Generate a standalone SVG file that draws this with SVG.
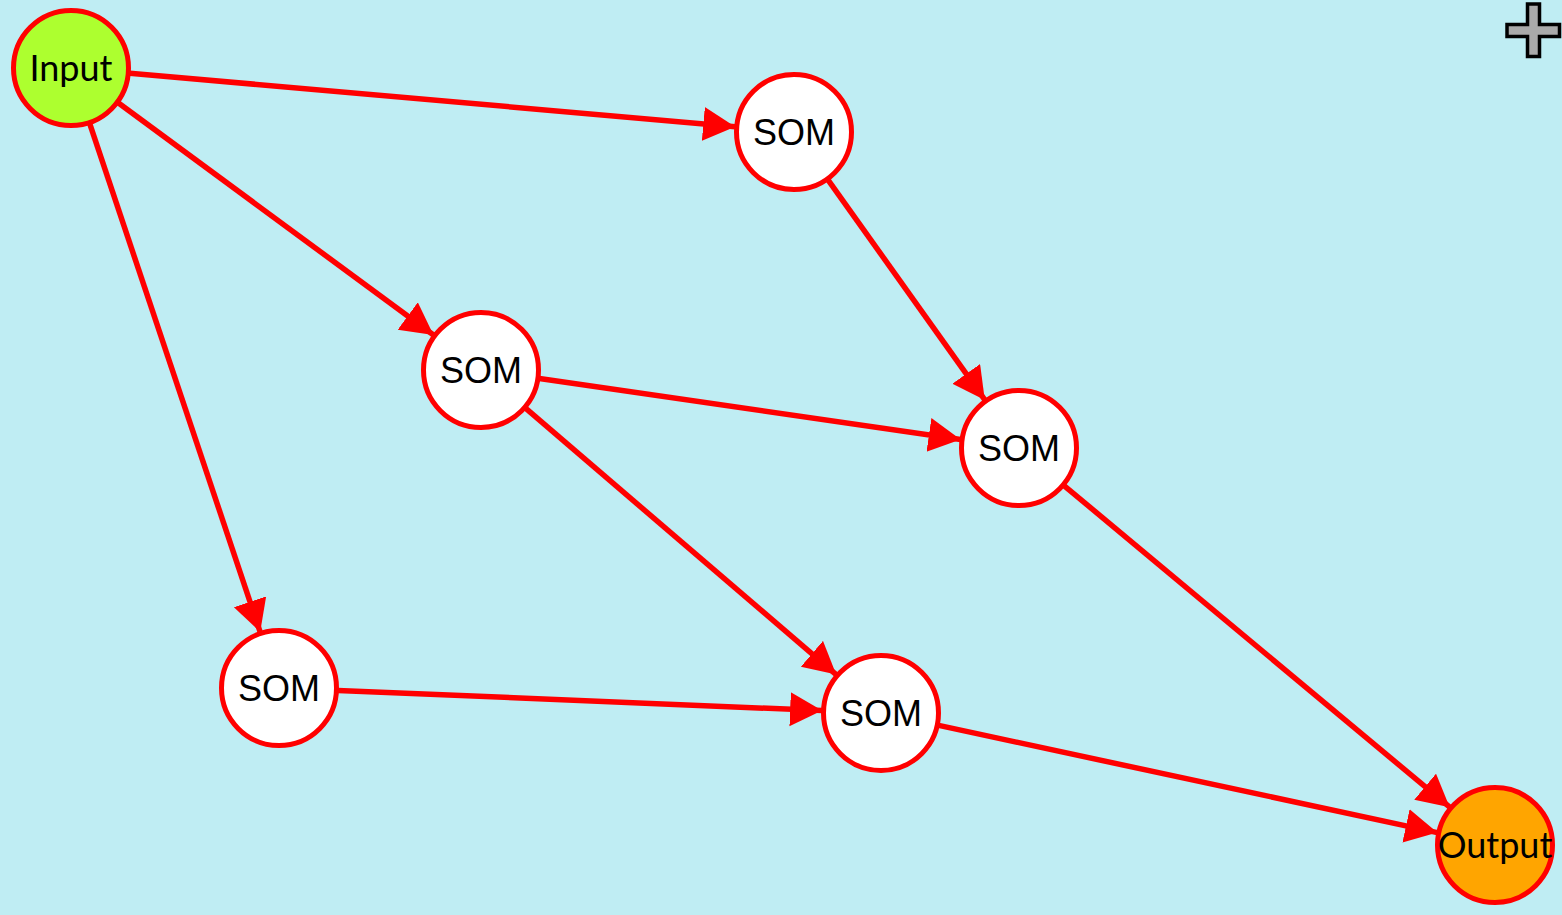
<svg xmlns="http://www.w3.org/2000/svg" width="1562" height="915" viewBox="0 0 1562 915">
<style>
.node{stroke:#ff0000;stroke-width:5}
.som{fill:#ffffff}
.edge{stroke:#ff0000;stroke-width:5.5;fill:none}
.lbl{font-family:"Liberation Sans",Arial,sans-serif;font-size:36px;fill:#000;text-anchor:middle}
.lbl2{font-family:Lato,"Open Sans",sans-serif;font-size:36px;fill:#000;text-anchor:middle}
</style>
<defs>
<marker id="arr" markerUnits="userSpaceOnUse" markerWidth="34" markerHeight="36" refX="32" refY="17" orient="auto">
<path d="M0,0 L32,17 L0,34 Z" fill="#ff0000"/>
</marker>
</defs>
<rect x="0" y="0" width="1562" height="915" fill="#bfedf3"/>
<g id="connectors">
<line class="edge" x1="129.8" y1="73.2" x2="735.2" y2="126.8" marker-end="url(#arr)"/>
<line class="edge" x1="118.5" y1="103" x2="433.5" y2="335" marker-end="url(#arr)"/>
<line class="edge" x1="89.8" y1="123.9" x2="260.2" y2="632.1" marker-end="url(#arr)"/>
<line class="edge" x1="828.2" y1="180.1" x2="984.8" y2="399.9" marker-end="url(#arr)"/>
<line class="edge" x1="539.4" y1="378.5" x2="960.6" y2="439.5" marker-end="url(#arr)"/>
<line class="edge" x1="525.8" y1="408.4" x2="836.2" y2="674.6" marker-end="url(#arr)"/>
<line class="edge" x1="337.9" y1="690.4" x2="822.1" y2="710.6" marker-end="url(#arr)"/>
<line class="edge" x1="1064.3" y1="485.8" x2="1449.7" y2="807.2" marker-end="url(#arr)"/>
<line class="edge" x1="938.7" y1="725.4" x2="1437.3" y2="832.6" marker-end="url(#arr)"/>
</g>
<g id="input"><circle class="node" cx="71" cy="68" r="57.5" fill="#adff2f"/><text class="lbl2" x="71" y="81">Input</text></g>
<g id="som1"><circle class="node som" cx="794" cy="132" r="57.5"/><text class="lbl" x="794" y="145">SOM</text></g>
<g id="som2"><circle class="node som" cx="481" cy="370" r="57.5"/><text class="lbl" x="481" y="383">SOM</text></g>
<g id="som3"><circle class="node som" cx="1019" cy="448" r="57.5"/><text class="lbl" x="1019" y="461">SOM</text></g>
<g id="som4"><circle class="node som" cx="279" cy="688" r="57.5"/><text class="lbl" x="279" y="701">SOM</text></g>
<g id="som5"><circle class="node som" cx="881" cy="713" r="57.5"/><text class="lbl" x="881" y="726">SOM</text></g>
<g id="output"><circle class="node" cx="1495" cy="845" r="57.5" fill="#ffa500"/><text class="lbl2" x="1495" y="858">Output</text></g>
<path d="M1527.5,4 H1539.5 V24.5 H1559.5 V36.5 H1539.5 V56.5 H1527.5 V36.5 H1507 V24.5 H1527.5 Z" fill="#aaaaaa" stroke="#000" stroke-width="3.5"/>
</svg>
